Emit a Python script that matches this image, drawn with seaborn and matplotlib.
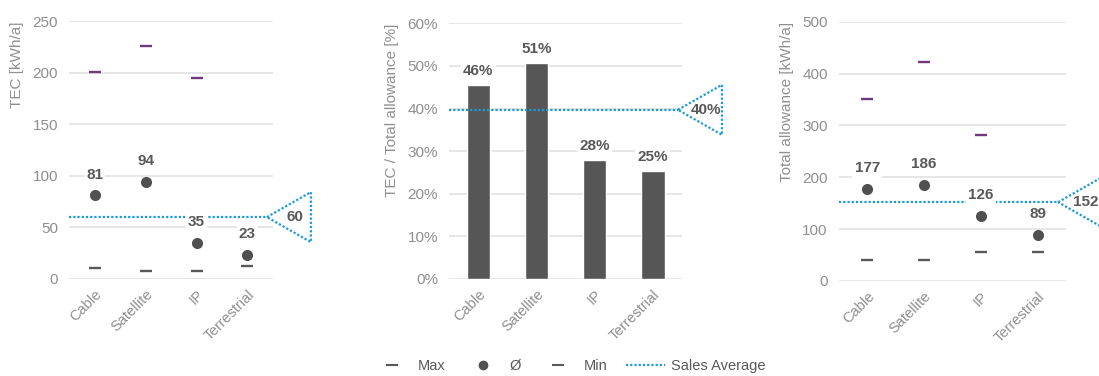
import numpy as np
import matplotlib
matplotlib.use("Agg")
import matplotlib.pyplot as plt
import matplotlib.transforms as mtransforms
from matplotlib.patches import Polygon
from matplotlib.lines import Line2D
from matplotlib.ticker import PercentFormatter
import seaborn as sns

# ---- data -------------------------------------------------------------
categories = ["Cable", "Satellite", "IP", "Terrestrial"]

tec_max = [201, 226, 195, np.nan]
tec_mean = [81, 94, 35, 23]
tec_min = [10.5, 8, 7.5, 13]
tec_sales_avg = 60

ratio = [0.456, 0.508, 0.279, 0.253]
ratio_sales_avg = 0.397

allow_max = [351, 422, 281, np.nan]
allow_mean = [177, 186, 126, 89]
allow_min = [40, 40, 55, 55]
allow_sales_avg = 152

# ---- style ------------------------------------------------------------
sns.set_theme(style="white")
plt.rcParams["font.family"] = ["Liberation Sans", "DejaVu Sans"]

DARK = "#595959"
DOT = "#505050"
PURPLE = "#6e3a7c"
BAR = "#565656"
BLUE = "#1a9bd7"
TICK = "#8f8f8f"
GRID = "#e6e6e6"
DOTTED = (0, (1, 0.9))

fig = plt.figure(figsize=(10.99, 3.76), dpi=100)
ax1 = fig.add_axes([0.0628, 0.258, 0.1856, 0.686])
ax2 = fig.add_axes([0.4086, 0.258, 0.2120, 0.680])
ax3 = fig.add_axes([0.7634, 0.2527, 0.2066, 0.6896])


def style_axis(ax, ylabel, ylim, ticks):
    ax.set_ylim(*ylim)
    ax.set_yticks(ticks)
    ax.set_xlim(-0.5, 3.5)
    ax.grid(axis="y", color=GRID, linewidth=1.4, zorder=0)
    ax.grid(axis="x", visible=False)
    ax.set_axisbelow(True)
    for s in ax.spines.values():
        s.set_visible(False)
    ax.tick_params(axis="both", length=0, labelcolor=TICK)
    ax.tick_params(axis="y", pad=8, labelsize=11)
    ax.tick_params(axis="x", pad=6, labelsize=10.5)
    ax.set_xlabel("")
    ax.set_ylabel(ylabel, fontsize=11, color=TICK, labelpad=6, loc="top")
    for lab in ax.get_xticklabels():
        lab.set_rotation(45)
        lab.set_ha("right")
        lab.set_rotation_mode("anchor")


def callout(ax, x_vertex, avg, text):
    # dotted sales-average line ending in an open triangle with the value inside
    ax.plot([-0.5, x_vertex], [avg, avg], color=BLUE, linewidth=1.6,
            linestyle=DOTTED, zorder=2, clip_on=False)
    trans = fig.dpi_scale_trans + mtransforms.ScaledTranslation(
        x_vertex, avg, ax.transData)
    tri = Polygon([(0, 0), (0.44, 0.25), (0.44, -0.25)], closed=True,
                  fill=False, edgecolor=BLUE, linewidth=1.6,
                  linestyle=DOTTED, transform=trans, clip_on=False, zorder=2)
    ax.add_patch(tri)
    ax.text(0.28, 0.0, text, transform=trans, ha="center", va="center",
            fontsize=11, fontweight="bold", color=DARK, zorder=4,
            clip_on=False)


def value_labels(ax, values, fmt, offset):
    for i, v in enumerate(values):
        ax.annotate(fmt(v), (i, v), xytext=(0, offset),
                    textcoords="offset points",
                    ha="center", va="center", fontsize=11,
                    fontweight="bold", color=DARK, zorder=4,
                    bbox=dict(boxstyle="square,pad=0.15", fc="white",
                              ec="none"))


def range_panel(ax, vmax, vmean, vmin):
    sns.stripplot(x=categories, y=vmax, order=categories, jitter=False,
                  marker="_", size=8, linewidth=1.7, color=PURPLE,
                  edgecolor=PURPLE, ax=ax, zorder=3)
    sns.stripplot(x=categories, y=vmin, order=categories, jitter=False,
                  marker="_", size=8, linewidth=1.7, color=DARK,
                  edgecolor=DARK, ax=ax, zorder=3)
    sns.stripplot(x=categories, y=vmean, order=categories, jitter=False,
                  marker="o", size=8, linewidth=0, color=DOT, ax=ax, zorder=3)


# ---- panel 1: TEC -----------------------------------------------------
range_panel(ax1, tec_max, tec_mean, tec_min)
style_axis(ax1, "TEC [kWh/a]", (0, 250), range(0, 251, 50))
callout(ax1, 3.38, tec_sales_avg, f"{tec_sales_avg:.0f}")
value_labels(ax1, tec_mean, lambda v: f"{v:.0f}", 15)

# ---- panel 2: TEC / total allowance ----------------------------------
sns.barplot(x=categories, y=ratio, order=categories, color=BAR,
            saturation=1, width=0.4, ax=ax2, zorder=2)
style_axis(ax2, "TEC / Total allowance [%]", (0, 0.6),
           np.arange(0, 0.61, 0.1))
ax2.yaxis.set_major_formatter(PercentFormatter(1.0, decimals=0))
callout(ax2, 3.43, ratio_sales_avg, f"{ratio_sales_avg:.0%}")
value_labels(ax2, ratio, lambda v: f"{v:.0%}", 10)

# ---- panel 3: total allowance ----------------------------------------
range_panel(ax3, allow_max, allow_mean, allow_min)
style_axis(ax3, "Total allowance [kWh/a]", (0, 500), range(0, 501, 100))
callout(ax3, 3.36, allow_sales_avg, f"{allow_sales_avg:.0f}")
value_labels(ax3, allow_mean, lambda v: f"{v:.0f}", 15)

# ---- shared legend ----------------------------------------------------
handles = [
    Line2D([], [], linestyle="none", marker="_", markersize=8,
           markeredgewidth=1.5, color=DARK, label="Max"),
    Line2D([], [], linestyle="none", marker="o", markersize=6,
           color=DOT, label="Ø"),
    Line2D([], [], linestyle="none", marker="_", markersize=8,
           markeredgewidth=1.5, color=DARK, label="Min"),
    Line2D([], [], linestyle=DOTTED, linewidth=1.6, color=BLUE,
           label="Sales Average"),
]
leg = fig.legend(handles=handles, loc="center", ncol=4, frameon=False,
                 bbox_to_anchor=(569 / 1099, 1 - 366 / 376), fontsize=10.5,
                 handlelength=2.7, handletextpad=0.4, columnspacing=1.25)
for t in leg.get_texts():
    t.set_color(DARK)

fig.savefig("out.png", dpi=100)
